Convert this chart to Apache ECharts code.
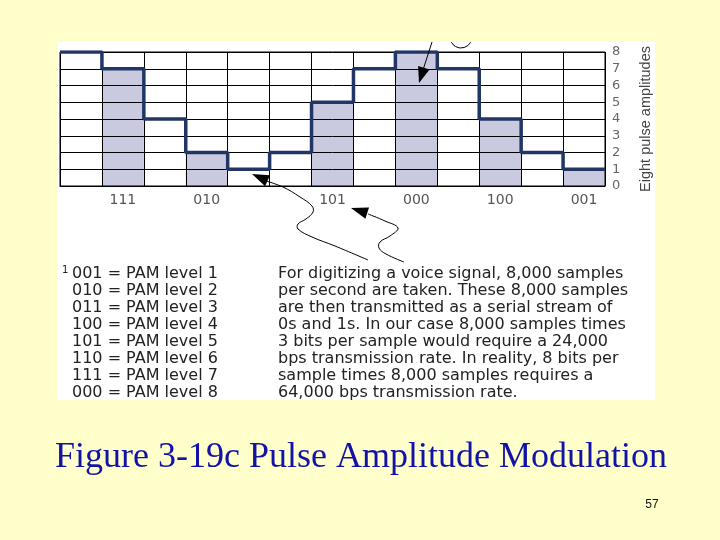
<!DOCTYPE html>
<html>
<head>
<meta charset="utf-8">
<script src="https://cdn.jsdelivr.net/npm/echarts@6/dist/echarts.min.js"></script>
<style>
  html, body { margin: 0; padding: 0; background: #ffffcc; }
  #chart { width: 720px; height: 540px; }
</style>
</head>
<body>
<div id="chart"></div>
<script>
// level held during each of the 13 time slots
const levels = [8, 7, 4, 2, 1, 2, 5, 7, 8, 7, 4, 2, 1];
// the sampled slots (shaded) and their 3-bit codes
const sampleLevels = ['-', 7, '-', 2, '-', '-', 5, '-', 8, '-', 4, '-', 1];
const codeLabels = ['', '111', '', '010', '', '', '101', '', '000', '', '100', '', '001'];
const yMin = 0, yMax = 8;
const yName = 'Eight pulse amplitudes';

const pamLines = [
  '001 = PAM level 1',
  '010 = PAM level 2',
  '011 = PAM level 3',
  '100 = PAM level 4',
  '101 = PAM level 5',
  '110 = PAM level 6',
  '111 = PAM level 7',
  '000 = PAM level 8'
];
const noteLines = [
  'For digitizing a voice signal, 8,000 samples',
  'per second are taken. These 8,000 samples',
  'are then transmitted as a serial stream of',
  '0s and 1s. In our case 8,000 samples times',
  '3 bits per sample would require a 24,000',
  'bps transmission rate. In reality, 8 bits per',
  'sample times 8,000 samples requires a',
  '64,000 bps transmission rate.'
];
const title = 'Figure 3-19c Pulse Amplitude Modulation';
const pageNo = '57';

const stepData = levels.map((v, i) => [i, v]).concat([[levels.length, levels[levels.length - 1]]]);

// little filled arrow head, tip + a point on the shaft
function arrowHead(tip, from, len, hw) {
  let dx = tip[0] - from[0], dy = tip[1] - from[1];
  let d = Math.sqrt(dx * dx + dy * dy);
  dx /= d; dy /= d;
  let bx = tip[0] - dx * len, by = tip[1] - dy * len;
  return {
    type: 'polygon', z: 20,
    shape: { points: [tip, [bx - dy * hw, by + dx * hw], [bx + dy * hw, by - dx * hw]] },
    style: { fill: '#000' }
  };
}
function curve(pts) {
  return {
    type: 'polyline', z: 20,
    shape: { points: pts, smooth: 0.4 },
    style: { stroke: '#000', lineWidth: 1, fill: null }
  };
}

let option = {
  backgroundColor: '#ffffcc',
  animation: false,
  grid: {
    left: 60, right: 115, top: 52, bottom: 354,
    show: true, borderColor: '#000', borderWidth: 1,
    backgroundColor: 'transparent'
  },
  xAxis: [
    {
      type: 'category',
      data: codeLabels,
      axisLine: { lineStyle: { color: '#000' } },
      axisTick: { show: false },
      axisLabel: { interval: 0, margin: 7, color: '#555', fontSize: 14, fontFamily: 'DejaVu Sans' },
      splitLine: { show: true, interval: 0, lineStyle: { color: '#000', width: 1 } }
    },
    {
      type: 'value', min: 0, max: levels.length, show: false
    }
  ],
  yAxis: {
    type: 'value',
    position: 'right',
    min: yMin, max: yMax, interval: 1,
    name: yName,
    nameLocation: 'middle',
    nameRotate: 90,
    nameGap: 33,
    nameTextStyle: { color: '#444', fontSize: 14.5, fontFamily: 'Liberation Sans' },
    axisLine: { show: false },
    axisTick: { show: false },
    axisLabel: { margin: 7, color: '#666', fontSize: 13, fontFamily: 'DejaVu Sans' },
    splitLine: { lineStyle: { color: '#000', width: 1 } }
  },
  series: [
    {
      type: 'bar',
      z: -1,
      xAxisIndex: 0,
      barWidth: '100%',
      data: sampleLevels,
      itemStyle: { color: '#c9c9df' }
    },
    {
      type: 'line',
      z: 5,
      xAxisIndex: 1,
      step: 'end',
      symbol: 'none',
      data: stepData,
      lineStyle: { color: '#223666', width: 3.5 }
    }
  ],
  graphic: [
    { type: 'rect', z: -10, shape: { x: 58, y: 42, width: 597, height: 358 }, style: { fill: '#fff' } },
    // annotations
    { type: 'line', z: 20, shape: { x1: 432, y1: 42, x2: 423, y2: 70 }, style: { stroke: '#000', lineWidth: 1 } },
    arrowHead([419, 83], [432, 42], 16, 6),
    { type: 'arc', z: 20, shape: { cx: 461, cy: 37, r: 11, startAngle: 0.5, endAngle: Math.PI - 0.5 }, style: { stroke: '#000', lineWidth: 1, fill: null } },
    curve([[266, 181], [283, 187], [300, 197], [312, 206], [313, 212], [306, 219], [298, 224], [298, 229], [312, 237], [335, 246], [368, 260]]),
    arrowHead([252, 174], [268, 181], 17, 6),
    curve([[368, 214], [385, 221], [398, 228], [390, 236], [380, 242], [379, 248], [386, 254], [404, 262]]),
    arrowHead([351, 208], [370, 214], 17, 6),
    {
      type: 'text', z: 20, left: 62, top: 265,
      style: { text: '1', fontSize: 10, fontFamily: 'DejaVu Sans', fill: '#222' }
    },
    {
      type: 'text', z: 20, left: 72, top: 265,
      style: { text: pamLines.join('\n'), fontSize: 16, lineHeight: 17, fontFamily: 'DejaVu Sans', fill: '#222' }
    },
    {
      type: 'text', z: 20, left: 278, top: 265,
      style: { text: noteLines.join('\n'), fontSize: 16, lineHeight: 17, fontFamily: 'DejaVu Sans', fill: '#222' }
    },
    {
      type: 'text', z: 20, x: 361, y: 458,
      style: { text: title, fontSize: 36, fontFamily: 'Liberation Serif', fill: '#1212a6', align: 'center', verticalAlign: 'middle' }
    },
    {
      type: 'text', z: 20, x: 652, y: 505,
      style: { text: pageNo, fontSize: 12, fontFamily: 'Liberation Sans', fill: '#111', align: 'center', verticalAlign: 'middle' }
    }
  ]
};

let mychart = echarts.init(document.getElementById('chart'));
mychart.setOption(option);
</script>
</body>
</html>
